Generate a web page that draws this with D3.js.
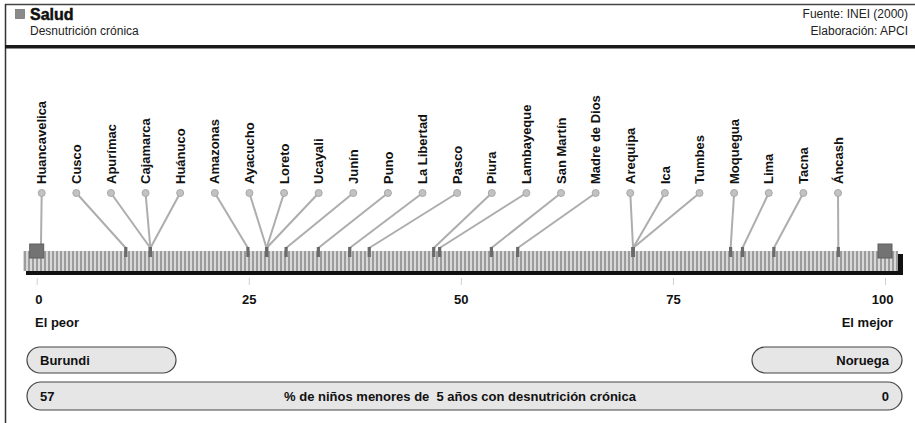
<!DOCTYPE html>
<html>
<head>
<meta charset="utf-8">
<script src="https://cdn.jsdelivr.net/npm/d3@7"></script>
<style>
body{margin:0;background:#fff;}
svg{display:block;font-family:Arial,"Liberation Sans",sans-serif;}
text{white-space:pre;}
</style>
</head>
<body>
<svg id="chart" width="915" height="423"></svg>
<script>
const regions = ["Huancavelica","Cusco","Apurímac","Cajamarca","Huánuco","Amazonas","Ayacucho","Loreto","Ucayali","Junín","Puno","La Libertad","Pasco","Piura","Lambayeque","San Martín","Madre de Dios","Arequipa","Ica","Tumbes","Moquegua","Lima","Tacna","Áncash"];
const values = [0.5,10.5,13.4,13.4,13.4,24.9,27.1,27.1,27.1,29.4,33.2,36.9,39.2,46.8,47.5,53.6,56.7,70.3,70.3,70.3,81.8,83.2,86.9,94.5];
const tickValues = [0,25,50,75,100];
const worstName = "Burundi", bestName = "Noruega";
const worstValue = "57", bestValue = "0";
const indicator = "% de niños menores de  5 años con desnutrición crónica";
const title = "Salud", subtitle = "Desnutrición crónica";
const source1 = "Fuente: INEI (2000)", source2 = "Elaboración: APCI";

const svg = d3.select("#chart");
const x = d3.scaleLinear().domain([0,100]).range([36.7,885]);
const lx = d3.scalePoint().domain(regions).range([41.7,838]);

// frame
svg.append("line").attr("x1",5).attr("x2",915).attr("y1",4.5).attr("y2",4.5).attr("stroke","#444").attr("stroke-width",1.5);
svg.append("line").attr("x1",5.5).attr("x2",5.5).attr("y1",4).attr("y2",423).attr("stroke","#333").attr("stroke-width",1.5);
svg.append("rect").attr("x",5).attr("y",45).attr("width",910).attr("height",3.5).attr("fill","#1a1a1a");

// header
svg.append("rect").attr("x",15.5).attr("y",9.5).attr("width",9).attr("height",9).attr("fill","#8a8a8a").attr("stroke","#777").attr("stroke-width",0.8);
svg.append("text").attr("x",30).attr("y",20).attr("font-size",16).attr("font-weight","900").attr("fill","#111")
  .attr("stroke","#111").attr("stroke-width",0.5).text(title);
svg.append("text").attr("x",30).attr("y",35).attr("font-size",12).attr("fill","#222").text(subtitle);
svg.append("text").attr("x",908).attr("y",18).attr("font-size",12).attr("text-anchor","end").attr("fill","#222").text(source1);
svg.append("text").attr("x",908).attr("y",35).attr("font-size",12).attr("text-anchor","end").attr("fill","#222").text(source2);

// bar pattern
const defs = svg.append("defs");
const pat = defs.append("pattern").attr("id","stripes").attr("patternUnits","userSpaceOnUse").attr("width",4).attr("height",20);
pat.append("rect").attr("width",4).attr("height",20).attr("fill","#d8d8d8");
pat.append("rect").attr("width",2).attr("height",20).attr("fill","#9c9c9c");

const barTop = 251, barBot = 271;
// shadow
svg.append("rect").attr("x",26).attr("y",254).attr("width",877).attr("height",21).attr("fill","#111");
svg.append("rect").attr("x",23).attr("y",barTop).attr("width",875).attr("height",barBot-barTop).attr("fill","url(#stripes)");

// connectors
const circY = 193, markTop = 247;
const g = svg.append("g");
g.selectAll("line.conn").data(regions).join("line").attr("class","conn")
  .attr("x1",d=>lx(d)).attr("y1",circY)
  .attr("x2",(d,i)=>x(values[i])).attr("y2",markTop+1)
  .attr("stroke","#adadad").attr("stroke-width",2);
g.selectAll("circle").data(regions).join("circle")
  .attr("cx",d=>lx(d)).attr("cy",circY).attr("r",3.5)
  .attr("fill","#c2c2c2").attr("stroke","#a8a8a8").attr("stroke-width",1);
g.selectAll("rect.mk").data(values).join("rect").attr("class","mk")
  .attr("x",d=>x(d)-1.6).attr("y",markTop).attr("width",3.2).attr("height",10)
  .attr("fill","#6a6a6a");
g.selectAll("text.lab").data(regions).join("text").attr("class","lab")
  .attr("transform",d=>`translate(${lx(d)},184) rotate(-90)`)
  .attr("dy","0.36em").attr("font-size",13).attr("font-weight","bold").attr("fill","#111")
  .text(d=>d);

// extreme squares
svg.selectAll("rect.ext").data([0,100]).join("rect").attr("class","ext")
  .attr("x",d=>x(d)-7).attr("y",244).attr("width",14).attr("height",14)
  .attr("fill","#737373").attr("stroke","#5e5e5e").attr("stroke-width",1);

// axis
const axis = svg.append("g").attr("transform","translate(0,278)")
  .call(d3.axisBottom(x).tickValues(tickValues).tickSize(7).tickPadding(10));
axis.select(".domain").remove();
axis.selectAll(".tick line").attr("stroke","#d0d0d0");
axis.selectAll(".tick text").attr("font-size",13).attr("font-weight","bold").attr("fill","#111")
  .attr("font-family","Arial,'Liberation Sans',sans-serif")
  .attr("text-anchor",(d,i)=> i===0 ? "start" : (i===tickValues.length-1 ? "end" : "middle"))
  .attr("dx",(d,i)=> i===0 ? -2 : (i===tickValues.length-1 ? 8 : 0));

svg.append("text").attr("x",35).attr("y",327).attr("font-size",13).attr("font-weight","bold").attr("fill","#111").text("El peor");
svg.append("text").attr("x",893).attr("y",327).attr("font-size",13).attr("font-weight","bold").attr("text-anchor","end").attr("fill","#111").text("El mejor");

// pills
function pill(x0,y0,w,h){
  svg.append("rect").attr("x",x0).attr("y",y0).attr("width",w).attr("height",h)
    .attr("rx",h/2).attr("ry",h/2).attr("fill","#e6e6e6").attr("stroke","#444").attr("stroke-width",1.2);
}
pill(27,347,149,26);
pill(752,347,150,26);
pill(27,382,875,28);
svg.append("text").attr("x",40).attr("y",365).attr("font-size",13).attr("font-weight","bold").attr("fill","#111").text(worstName);
svg.append("text").attr("x",889).attr("y",365).attr("font-size",13).attr("font-weight","bold").attr("text-anchor","end").attr("fill","#111").text(bestName);
svg.append("text").attr("x",40).attr("y",401).attr("font-size",13).attr("font-weight","bold").attr("fill","#111").text(worstValue);
svg.append("text").attr("x",889).attr("y",401).attr("font-size",13).attr("font-weight","bold").attr("text-anchor","end").attr("fill","#111").text(bestValue);
svg.append("text").attr("x",460).attr("y",401).attr("font-size",13).attr("font-weight","bold").attr("text-anchor","middle").attr("fill","#111").text(indicator);
</script>
</body>
</html>
